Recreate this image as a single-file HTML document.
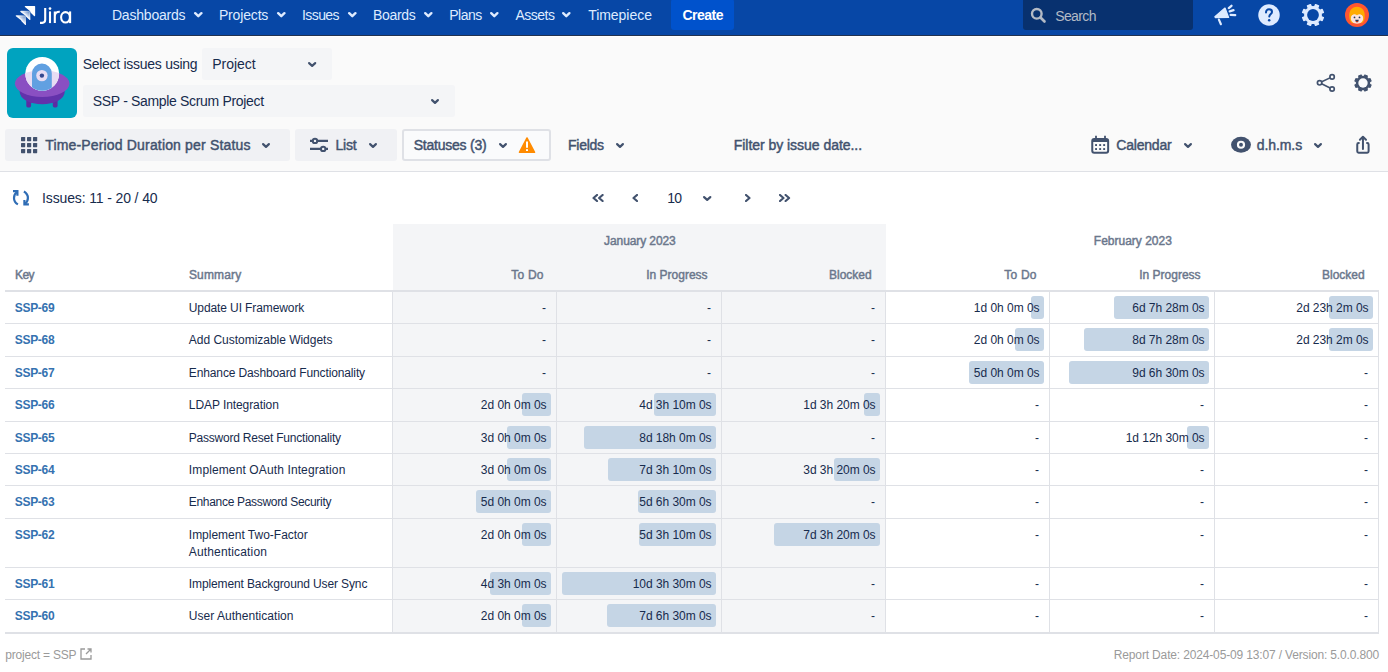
<!DOCTYPE html>
<html><head><meta charset="utf-8"><title>Jira Timepiece</title>
<style>
html,body{margin:0;padding:0;}
body{width:1388px;height:672px;overflow:hidden;position:relative;background:#ffffff;font-family:"Liberation Sans",sans-serif;}
.t{position:absolute;white-space:nowrap;line-height:normal;}
.b{position:absolute;}
</style></head><body>
<div class="b" style="left:0;top:37px;width:1388px;height:134px;background:#fafafa"></div>
<div class="b" style="left:0px;top:0px;width:1388px;height:35px;background:#0747a6;"></div><div class="b" style="left:0px;top:35px;width:1388px;height:1px;background:#22324f;"></div><div class="b" style="left:0px;top:36px;width:1388px;height:1px;background:#ffffff;"></div><svg class="b" style="left:0px;top:0px" width="80" height="32" viewBox="0 0 80 32">
<defs>
<linearGradient id="lgA" x1="0" y1="1" x2="1" y2="0"><stop offset="0.45" stop-color="#fff"/><stop offset="1" stop-color="#fff" stop-opacity="0.3"/></linearGradient>
</defs>
<path d="M25.4 6.6 H34.5 V15.5 L31.2 12.2 L30.6 10.8 Z" fill="#fff" stroke="#fff" stroke-width="1.3" stroke-linejoin="round"/>
<path d="M20.9 11.4 H29.8 V19.4 L26.6 16.4 L25.9 15.2 Z" fill="url(#lgA)" stroke="url(#lgA)" stroke-width="1.2" stroke-linejoin="round"/>
<path d="M16.3 15.8 H25.4 V24.4 L22.2 21.2 L21.4 19.8 Z" fill="url(#lgA)" stroke="url(#lgA)" stroke-width="1.2" stroke-linejoin="round"/>
<g fill="none" stroke="#fff" stroke-width="2.1">
<path d="M45.2 8 V19.6 Q45.2 22.9 42.2 22.9 H40"/>
<path d="M50 11.4 V23.1"/>
<path d="M54.8 23.1 V11.4 M54.8 16 Q55.3 11.6 59.8 11.8"/>
<ellipse cx="65.5" cy="17.3" rx="4.4" ry="5.2"/>
<path d="M70.1 11.4 V23.1"/>
</g>
<circle cx="50" cy="8.6" r="1.35" fill="#fff"/>
</svg><div class="t" style="left:111.94px;top:7.00px;font-size:14px;font-weight:400;color:#deebff;letter-spacing:-0.204px;">Dashboards</div><svg class="b" style="left:192.6px;top:10.8px" width="10.6" height="7.4" viewBox="-1 -1 10.6 7.4"><path d="M1.2 1.2 L4.3 4.2 L7.3999999999999995 1.2" fill="none" stroke="#deebff" stroke-width="2.4" stroke-linecap="round" stroke-linejoin="round"/></svg><div class="t" style="left:218.94px;top:7.00px;font-size:14px;font-weight:400;color:#deebff;letter-spacing:-0.163px;">Projects</div><svg class="b" style="left:275.5px;top:10.8px" width="10.6" height="7.4" viewBox="-1 -1 10.6 7.4"><path d="M1.2 1.2 L4.3 4.2 L7.3999999999999995 1.2" fill="none" stroke="#deebff" stroke-width="2.4" stroke-linecap="round" stroke-linejoin="round"/></svg><div class="t" style="left:301.94px;top:7.00px;font-size:14px;font-weight:400;color:#deebff;letter-spacing:-0.567px;">Issues</div><svg class="b" style="left:346.6px;top:10.8px" width="10.6" height="7.4" viewBox="-1 -1 10.6 7.4"><path d="M1.2 1.2 L4.3 4.2 L7.3999999999999995 1.2" fill="none" stroke="#deebff" stroke-width="2.4" stroke-linecap="round" stroke-linejoin="round"/></svg><div class="t" style="left:372.94px;top:7.00px;font-size:14px;font-weight:400;color:#deebff;letter-spacing:-0.285px;">Boards</div><svg class="b" style="left:423px;top:10.8px" width="10.6" height="7.4" viewBox="-1 -1 10.6 7.4"><path d="M1.2 1.2 L4.3 4.2 L7.3999999999999995 1.2" fill="none" stroke="#deebff" stroke-width="2.4" stroke-linecap="round" stroke-linejoin="round"/></svg><div class="t" style="left:449.34px;top:7.00px;font-size:14px;font-weight:400;color:#deebff;letter-spacing:-0.549px;">Plans</div><svg class="b" style="left:489.3px;top:10.8px" width="10.6" height="7.4" viewBox="-1 -1 10.6 7.4"><path d="M1.2 1.2 L4.3 4.2 L7.3999999999999995 1.2" fill="none" stroke="#deebff" stroke-width="2.4" stroke-linecap="round" stroke-linejoin="round"/></svg><div class="t" style="left:515.44px;top:7.00px;font-size:14px;font-weight:400;color:#deebff;letter-spacing:-0.499px;">Assets</div><svg class="b" style="left:561.4px;top:10.8px" width="10.6" height="7.4" viewBox="-1 -1 10.6 7.4"><path d="M1.2 1.2 L4.3 4.2 L7.3999999999999995 1.2" fill="none" stroke="#deebff" stroke-width="2.4" stroke-linecap="round" stroke-linejoin="round"/></svg><div class="t" style="left:588.14px;top:7.00px;font-size:14px;font-weight:400;color:#deebff;letter-spacing:-0.026px;">Timepiece</div><div class="b" style="left:671px;top:-1px;width:63px;height:31px;background:#0052cc;border-radius:3px"></div><div class="t" style="left:682.44px;top:7.00px;font-size:14px;font-weight:700;color:#ffffff;letter-spacing:-0.489px;">Create</div><div class="b" style="left:1023px;top:-3px;width:170px;height:33px;background:#08316f;border-radius:3px"></div><svg class="b" style="left:1030px;top:7px" width="17" height="17" viewBox="0 0 17 17"><circle cx="6.8" cy="6.8" r="4.8" fill="none" stroke="#b3bac5" stroke-width="2.4"/><path d="M10.5 10.5 L14.5 14.5" stroke="#b3bac5" stroke-width="2.6" stroke-linecap="round"/></svg><div class="t" style="left:1055.14px;top:8.00px;font-size:14px;font-weight:400;color:#b3bac5;letter-spacing:-0.585px;">Search</div><svg class="b" style="left:1213px;top:4px" width="24" height="22" viewBox="0 0 24 22">
<path d="M1.9 12.8 L12 4.1 L15.6 13.4 L2.3 13.5 Z" fill="#deebff" stroke="#deebff" stroke-width="1.3" stroke-linejoin="round"/>
<path d="M5.9 15.6 L7.9 20.2" stroke="#deebff" stroke-width="2.2" stroke-linecap="round"/>
<path d="M15.8 4.1 L18.5 1.8 M16.7 7.3 L20.5 6.2 M17.7 10.8 L22.2 11.2" stroke="#deebff" stroke-width="2.3" stroke-linecap="round"/>
</svg><svg class="b" style="left:1257px;top:3px" width="24" height="24" viewBox="0 0 24 24">
<circle cx="12" cy="12" r="10.75" fill="#deebff"/>
<path d="M9 9.4 C9 7.4 10.3 6.3 12 6.3 C13.8 6.3 15 7.5 15 9 C15 10.9 12.5 11.2 12.3 13.4" fill="none" stroke="#0747a6" stroke-width="2" stroke-linecap="round"/>
<circle cx="12.2" cy="17.2" r="1.25" fill="#0747a6"/>
</svg><svg class="b" style="left:1301px;top:3px" width="24" height="24" viewBox="0 0 24 24"><path d="M20.20 12.00 L20.05 13.54 L22.39 14.54 L21.15 17.55 L18.78 16.61 L17.80 17.80 L17.80 17.80 L16.61 18.78 L17.55 21.15 L14.54 22.39 L13.54 20.05 L12.00 20.20 L12.00 20.20 L10.46 20.05 L9.46 22.39 L6.45 21.15 L7.39 18.78 L6.20 17.80 L6.20 17.80 L5.22 16.61 L2.85 17.55 L1.61 14.54 L3.95 13.54 L3.80 12.00 L3.80 12.00 L3.95 10.46 L1.61 9.46 L2.85 6.45 L5.22 7.39 L6.20 6.20 L6.20 6.20 L7.39 5.22 L6.45 2.85 L9.46 1.61 L10.46 3.95 L12.00 3.80 L12.00 3.80 L13.54 3.95 L14.54 1.61 L17.55 2.85 L16.61 5.22 L17.80 6.20 L17.80 6.20 L18.78 7.39 L21.15 6.45 L22.39 9.46 L20.05 10.46 L20.20 12.00 Z" fill="#deebff" stroke="#deebff" stroke-width="1.4" stroke-linejoin="round"/><circle cx="12" cy="12" r="5.9" fill="#0747a6"/></svg><svg class="b" style="left:1345px;top:3px" width="24" height="24" viewBox="0 0 24 24">
<circle cx="12" cy="12" r="12" fill="#ff5630"/>
<path d="M4.3 14 C3.6 8 7 3.8 12 3.8 C17 3.8 20.4 8 19.7 14 C19.5 17 18.5 19 17 20 L7 20 C5.5 19 4.5 17 4.3 14Z" fill="#ffab00"/>
<path d="M5.9 15.5 C5.9 12.5 7 10.8 12 10.8 C17 10.8 18.1 12.5 18.1 15.5 C18.1 18.8 15.5 20.7 12 20.7 C8.5 20.7 5.9 18.8 5.9 15.5Z" fill="#fbe3dc"/>
<path d="M5.6 13 C7 9.2 9.5 8.5 12 9.6 C14.5 8.5 17 9.2 18.4 13 C16 11 14 10.8 12 12.2 C10 10.8 8 11 5.6 13Z" fill="#ffab00"/>
<circle cx="9.5" cy="14.4" r="0.9" fill="#253858"/><circle cx="14.5" cy="14.4" r="0.9" fill="#253858"/>
<path d="M10.2 16.7 H13.8 Q13.6 19.3 12 19.3 Q10.4 19.3 10.2 16.7Z" fill="#253858"/>
<path d="M10.8 18.4 Q12 17.6 13.2 18.4 Q12.8 19.3 12 19.3 Q11.2 19.3 10.8 18.4Z" fill="#de350b"/>
</svg><svg class="b" style="left:7px;top:48px" width="70" height="70" viewBox="0 0 70 70">
<defs><clipPath id="ufoE"><ellipse cx="35.2" cy="35.6" rx="27.3" ry="13.3"/></clipPath>
<clipPath id="ufoC"><circle cx="35.2" cy="25.8" r="16.9"/></clipPath></defs>
<rect width="70" height="70" rx="6" fill="#00a3bf"/>
<rect x="19.3" y="48" width="4.8" height="11.4" rx="1.6" fill="#5b2ca3"/>
<rect x="45.8" y="48" width="4.8" height="11.4" rx="1.6" fill="#5b2ca3"/>
<ellipse cx="35.2" cy="44" rx="22.5" ry="12.2" fill="#6232ab"/>
<ellipse cx="35.2" cy="35.6" rx="27.3" ry="13.3" fill="#8a4fc2"/>
<circle cx="35.2" cy="25.8" r="16.9" fill="#ffffff"/>
<circle cx="35.2" cy="25.8" r="16.9" fill="#e7dcf3" clip-path="url(#ufoE)"/>
<path d="M25 45 V25.5 A9.9 9.9 0 0 1 44.8 25.5 V45 Z" fill="#61a0e1" clip-path="url(#ufoC)"/>
<circle cx="34.9" cy="27.6" r="5.7" fill="#e7dcf3"/>
<circle cx="34.9" cy="27.6" r="2.2" fill="#34478f"/>
</svg><div class="t" style="left:82.64px;top:56.00px;font-size:14px;font-weight:400;color:#172b4d;letter-spacing:-0.272px;">Select issues using</div><div class="b" style="left:202px;top:48px;width:130px;height:32px;background:#f4f5f7;border-radius:3px"></div><div class="t" style="left:212.34px;top:56.00px;font-size:14px;font-weight:400;color:#172b4d;letter-spacing:-0.057px;">Project</div><svg class="b" style="left:307px;top:60.5px" width="10.3" height="7" viewBox="-1 -1 10.3 7"><path d="M1.1 1.1 L4.15 3.9 L7.200000000000001 1.1" fill="none" stroke="#42526e" stroke-width="2.2" stroke-linecap="round" stroke-linejoin="round"/></svg><div class="b" style="left:83px;top:85px;width:372px;height:32px;background:#f4f5f7;border-radius:3px"></div><div class="t" style="left:92.84px;top:93.00px;font-size:14px;font-weight:400;color:#172b4d;letter-spacing:-0.329px;">SSP - Sample Scrum Project</div><svg class="b" style="left:430px;top:98px" width="10" height="7" viewBox="-1 -1 10 7"><path d="M1.1 1.1 L4.0 3.9 L6.9 1.1" fill="none" stroke="#42526e" stroke-width="2.2" stroke-linecap="round" stroke-linejoin="round"/></svg><svg class="b" style="left:1316px;top:73px" width="20" height="20" viewBox="0 0 20 20">
<path d="M3.6 9.8 L16.1 3.9 M3.6 9.8 L16.1 16" stroke="#42526e" stroke-width="1.6"/>
<circle cx="3.6" cy="9.8" r="2.2" fill="#fafbfc" stroke="#42526e" stroke-width="1.7"/>
<circle cx="16.1" cy="3.9" r="2.2" fill="#fafbfc" stroke="#42526e" stroke-width="1.7"/>
<circle cx="16.1" cy="16" r="2.2" fill="#fafbfc" stroke="#42526e" stroke-width="1.7"/>
</svg><svg class="b" style="left:1352.6px;top:72.8px" width="20" height="20" viewBox="0 0 20 20"><path d="M16.60 10.00 L16.49 11.19 L18.07 11.92 L17.07 14.35 L15.43 13.75 L14.67 14.67 L14.67 14.67 L13.75 15.43 L14.35 17.07 L11.92 18.07 L11.19 16.49 L10.00 16.60 L10.00 16.60 L8.81 16.49 L8.08 18.07 L5.65 17.07 L6.25 15.43 L5.33 14.67 L5.33 14.67 L4.57 13.75 L2.93 14.35 L1.93 11.92 L3.51 11.19 L3.40 10.00 L3.40 10.00 L3.51 8.81 L1.93 8.08 L2.93 5.65 L4.57 6.25 L5.33 5.33 L5.33 5.33 L6.25 4.57 L5.65 2.93 L8.08 1.93 L8.81 3.51 L10.00 3.40 L10.00 3.40 L11.19 3.51 L11.92 1.93 L14.35 2.93 L13.75 4.57 L14.67 5.33 L14.67 5.33 L15.43 6.25 L17.07 5.65 L18.07 8.08 L16.49 8.81 L16.60 10.00 Z" fill="#42526e" stroke="#42526e" stroke-width="1.2" stroke-linejoin="round"/><circle cx="10" cy="10" r="4.7" fill="#fafbfc"/></svg><div class="b" style="left:5px;top:129px;width:285px;height:32px;background:#f0f1f4;border-radius:3px"></div><svg class="b" style="left:21px;top:137px" width="17" height="17" viewBox="0 0 17 17"><rect x="0" y="0" width="4.2" height="4.2" rx="0.6" fill="#42526e"/><rect x="0" y="6" width="4.2" height="4.2" rx="0.6" fill="#42526e"/><rect x="0" y="12" width="4.2" height="4.2" rx="0.6" fill="#42526e"/><rect x="6" y="0" width="4.2" height="4.2" rx="0.6" fill="#42526e"/><rect x="6" y="6" width="4.2" height="4.2" rx="0.6" fill="#42526e"/><rect x="6" y="12" width="4.2" height="4.2" rx="0.6" fill="#42526e"/><rect x="12" y="0" width="4.2" height="4.2" rx="0.6" fill="#42526e"/><rect x="12" y="6" width="4.2" height="4.2" rx="0.6" fill="#42526e"/><rect x="12" y="12" width="4.2" height="4.2" rx="0.6" fill="#42526e"/></svg><div class="t" style="left:45.24px;top:137.00px;font-size:14px;font-weight:400;color:#42526e;letter-spacing:0.165px;-webkit-text-stroke:0.45px #42526e;">Time-Period Duration per Status</div><svg class="b" style="left:261px;top:142px" width="10" height="7" viewBox="-1 -1 10 7"><path d="M1.1 1.1 L4.0 3.9 L6.9 1.1" fill="none" stroke="#42526e" stroke-width="2.2" stroke-linecap="round" stroke-linejoin="round"/></svg><div class="b" style="left:295px;top:129px;width:102px;height:32px;background:#f0f1f4;border-radius:3px"></div><svg class="b" style="left:309px;top:137px" width="20" height="16" viewBox="0 0 20 16">
<path d="M1 3.9 H19 M1 11.9 H19" stroke="#42526e" stroke-width="2.1"/>
<circle cx="6" cy="3.9" r="2.2" fill="#f0f1f4" stroke="#42526e" stroke-width="2"/>
<circle cx="14.2" cy="11.9" r="2.2" fill="#f0f1f4" stroke="#42526e" stroke-width="2"/>
</svg><div class="t" style="left:335.44px;top:137.00px;font-size:14px;font-weight:400;color:#42526e;letter-spacing:-0.187px;-webkit-text-stroke:0.45px #42526e;">List</div><svg class="b" style="left:368px;top:142px" width="10" height="7" viewBox="-1 -1 10 7"><path d="M1.1 1.1 L4.0 3.9 L6.9 1.1" fill="none" stroke="#42526e" stroke-width="2.2" stroke-linecap="round" stroke-linejoin="round"/></svg><div class="b" style="left:402px;top:129px;width:149px;height:32px;background:#fafbfc;border-radius:3px;box-sizing:border-box;border:2px solid #dfe1e6"></div><div class="t" style="left:413.64px;top:137.00px;font-size:14px;font-weight:400;color:#42526e;letter-spacing:-0.212px;-webkit-text-stroke:0.45px #42526e;">Statuses (3)</div><svg class="b" style="left:498.2px;top:142px" width="10" height="7" viewBox="-1 -1 10 7"><path d="M1.1 1.1 L4.0 3.9 L6.9 1.1" fill="none" stroke="#42526e" stroke-width="2.2" stroke-linecap="round" stroke-linejoin="round"/></svg><svg class="b" style="left:518px;top:136px" width="18" height="18" viewBox="0 0 18 18">
<path d="M9 1.9 L16.6 16.3 H1.4 Z" fill="#ff8b00" stroke="#ff8b00" stroke-width="1.4" stroke-linejoin="round"/>
<path d="M9 5.4 V11.8" stroke="#fff" stroke-width="2"/>
<rect x="8" y="13.2" width="2" height="1.8" fill="#fff"/>
</svg><div class="t" style="left:568.04px;top:137.00px;font-size:14px;font-weight:400;color:#42526e;letter-spacing:-0.262px;-webkit-text-stroke:0.45px #42526e;">Fields</div><svg class="b" style="left:614.5px;top:142px" width="10" height="7" viewBox="-1 -1 10 7"><path d="M1.1 1.1 L4.0 3.9 L6.9 1.1" fill="none" stroke="#42526e" stroke-width="2.2" stroke-linecap="round" stroke-linejoin="round"/></svg><div class="t" style="left:733.74px;top:137.00px;font-size:14px;font-weight:400;color:#42526e;letter-spacing:-0.037px;-webkit-text-stroke:0.45px #42526e;">Filter by issue date...</div><svg class="b" style="left:1090px;top:135px" width="20" height="20" viewBox="0 0 20 20">
<rect x="2.25" y="4" width="15.9" height="13.7" rx="2" fill="none" stroke="#42526e" stroke-width="2"/>
<rect x="2.25" y="4" width="15.9" height="3" fill="#42526e"/>
<path d="M6 0.8 V4 M15 0.8 V4" stroke="#42526e" stroke-width="1.8"/>
<g fill="#42526e"><rect x="5.1" y="9.1" width="1.9" height="1.9"/><rect x="9.2" y="9.1" width="1.9" height="1.9"/><rect x="13.2" y="9.1" width="1.9" height="1.9"/><rect x="5.1" y="13.1" width="1.9" height="1.9"/><rect x="9.2" y="13.1" width="1.9" height="1.9"/><rect x="13.2" y="13.1" width="1.9" height="1.9"/></g>
</svg><div class="t" style="left:1116.34px;top:137.00px;font-size:14px;font-weight:400;color:#42526e;letter-spacing:-0.209px;-webkit-text-stroke:0.45px #42526e;">Calendar</div><svg class="b" style="left:1183.3px;top:142px" width="10" height="7" viewBox="-1 -1 10 7"><path d="M1.1 1.1 L4.0 3.9 L6.9 1.1" fill="none" stroke="#42526e" stroke-width="2.2" stroke-linecap="round" stroke-linejoin="round"/></svg><svg class="b" style="left:1230px;top:136px" width="22" height="18" viewBox="0 0 22 18">
<ellipse cx="11" cy="8.75" rx="9.95" ry="7.9" fill="#42526e"/>
<circle cx="11" cy="8.75" r="4.1" fill="#fafafa"/><circle cx="11" cy="8.75" r="1.95" fill="#42526e"/>
</svg><div class="t" style="left:1256.84px;top:137.00px;font-size:14px;font-weight:400;color:#42526e;letter-spacing:-0.095px;-webkit-text-stroke:0.45px #42526e;">d.h.m.s</div><svg class="b" style="left:1313.1px;top:142px" width="10" height="7" viewBox="-1 -1 10 7"><path d="M1.1 1.1 L4.0 3.9 L6.9 1.1" fill="none" stroke="#42526e" stroke-width="2.2" stroke-linecap="round" stroke-linejoin="round"/></svg><svg class="b" style="left:1354px;top:134px" width="18" height="21" viewBox="0 0 18 21">
<path d="M8.95 3.5 V15" stroke="#42526e" stroke-width="2" stroke-linecap="round"/>
<path d="M5.9 5.8 L8.95 2.8 L12 5.8" fill="none" stroke="#42526e" stroke-width="2" stroke-linecap="round" stroke-linejoin="round"/>
<path d="M5.6 9 H4.6 Q3.25 9 3.25 10.4 V17.3 Q3.25 18.7 4.6 18.7 H13.25 Q14.6 18.7 14.6 17.3 V10.4 Q14.6 9 13.25 9 H12.3" fill="none" stroke="#42526e" stroke-width="2"/>
</svg><div class="b" style="left:0px;top:171px;width:1388px;height:1px;background:#dfe1e6;"></div><svg class="b" style="left:5px;top:183px" width="35" height="30" viewBox="0 0 35 30">
<g fill="none" stroke="#2f6db5" stroke-width="2.2">
<path d="M8 8.2 H12.4 V12.7" stroke-linejoin="miter"/>
<path d="M12.1 8.9 C10 10.4 9 12.7 9 15 C9 17.6 10.4 20 12.9 21.4"/>
<path d="M23.9 21.3 H19.4 V17.1" stroke-linejoin="miter"/>
<path d="M18.9 8.5 C21.5 10 22.9 12.4 22.9 15 C22.9 17.3 21.9 19.4 19.8 20.8"/>
</g>
</svg><div class="t" style="left:42.04px;top:190.00px;font-size:14px;font-weight:400;color:#172b4d;letter-spacing:-0.131px;">Issues: 11 - 20 / 40</div><svg class="b" style="left:592.2px;top:194px" width="12" height="8" viewBox="0 0 12 8"><path d="M5 1 L1.5 4.0 L5 7" fill="none" stroke="#42526e" stroke-width="2.2" stroke-linecap="round" stroke-linejoin="round"/><g transform="translate(5.6,0)"><path d="M5 1 L1.5 4.0 L5 7" fill="none" stroke="#42526e" stroke-width="2.2" stroke-linecap="round" stroke-linejoin="round"/></g></svg><svg class="b" style="left:632.1px;top:194px" width="6" height="8" viewBox="0 0 6 8"><path d="M5 1 L1.5 4.0 L5 7" fill="none" stroke="#42526e" stroke-width="2.2" stroke-linecap="round" stroke-linejoin="round"/></svg><div class="t" style="left:667.14px;top:190.00px;font-size:14px;font-weight:400;color:#172b4d;letter-spacing:-0.742px;">10</div><svg class="b" style="left:701.6px;top:194.9px" width="10.4" height="7" viewBox="-1 -1 10.4 7"><path d="M1.1 1.1 L4.2 3.9 L7.300000000000001 1.1" fill="none" stroke="#42526e" stroke-width="2.2" stroke-linecap="round" stroke-linejoin="round"/></svg><svg class="b" style="left:745.2px;top:194px" width="6" height="8" viewBox="0 0 6 8"><path d="M1 1 L4.5 4.0 L1 7" fill="none" stroke="#42526e" stroke-width="2.2" stroke-linecap="round" stroke-linejoin="round"/></svg><svg class="b" style="left:779.2px;top:194px" width="12" height="8" viewBox="0 0 12 8"><path d="M1 1 L4.5 4.0 L1 7" fill="none" stroke="#42526e" stroke-width="2.2" stroke-linecap="round" stroke-linejoin="round"/><g transform="translate(5.6,0)"><path d="M1 1 L4.5 4.0 L1 7" fill="none" stroke="#42526e" stroke-width="2.2" stroke-linecap="round" stroke-linejoin="round"/></g></svg><div class="b" style="left:393px;top:224px;width:493px;height:67px;background:#f4f5f7;"></div><div class="t" style="left:604.12px;top:234.00px;font-size:12px;font-weight:400;color:#6b778c;letter-spacing:-0.095px;-webkit-text-stroke:0.45px #6b778c;">January 2023</div><div class="t" style="left:1093.82px;top:234.00px;font-size:12px;font-weight:400;color:#6b778c;letter-spacing:0.002px;-webkit-text-stroke:0.45px #6b778c;">February 2023</div><div class="t" style="left:15.12px;top:268.00px;font-size:12px;font-weight:400;color:#6b778c;letter-spacing:-0.706px;-webkit-text-stroke:0.45px #6b778c;">Key</div><div class="t" style="left:188.92px;top:268.00px;font-size:12px;font-weight:400;color:#6b778c;letter-spacing:0.153px;-webkit-text-stroke:0.45px #6b778c;">Summary</div><div class="t" style="right:844.40px;top:268.00px;font-size:12px;font-weight:400;color:#6b778c;letter-spacing:0.179px;-webkit-text-stroke:0.45px #6b778c;">To Do</div><div class="t" style="right:680.42px;top:268.00px;font-size:12px;font-weight:400;color:#6b778c;letter-spacing:0.002px;-webkit-text-stroke:0.45px #6b778c;">In Progress</div><div class="t" style="right:516.40px;top:268.00px;font-size:12px;font-weight:400;color:#6b778c;letter-spacing:-0.021px;-webkit-text-stroke:0.45px #6b778c;">Blocked</div><div class="t" style="right:351.40px;top:268.00px;font-size:12px;font-weight:400;color:#6b778c;letter-spacing:0.179px;-webkit-text-stroke:0.45px #6b778c;">To Do</div><div class="t" style="right:187.42px;top:268.00px;font-size:12px;font-weight:400;color:#6b778c;letter-spacing:0.002px;-webkit-text-stroke:0.45px #6b778c;">In Progress</div><div class="t" style="right:23.40px;top:268.00px;font-size:12px;font-weight:400;color:#6b778c;letter-spacing:-0.021px;-webkit-text-stroke:0.45px #6b778c;">Blocked</div><div class="b" style="left:5px;top:290px;width:1374px;height:2px;background:#dfe1e6;"></div><div class="b" style="left:393px;top:292px;width:493px;height:340px;background:#f4f5f7;"></div><div class="t" style="left:14.82px;top:301.00px;font-size:12px;font-weight:700;color:#3572b0;letter-spacing:-0.317px;">SSP-69</div><div class="t" style="left:188.82px;top:301.00px;font-size:12px;font-weight:400;color:#172b4d;letter-spacing:-0.106px;">Update UI Framework</div><div class="t" style="right:842.02px;top:301.00px;font-size:12px;font-weight:400;color:#172b4d;letter-spacing:0.000px;">-</div><div class="t" style="right:677.02px;top:301.00px;font-size:12px;font-weight:400;color:#172b4d;letter-spacing:0.000px;">-</div><div class="t" style="right:513.02px;top:301.00px;font-size:12px;font-weight:400;color:#172b4d;letter-spacing:0.000px;">-</div><div class="b" style="left:1031px;top:296px;width:13px;height:22.5px;background:#c5d5e5;border-radius:3px"></div><div class="t" style="right:348.49px;top:301.00px;font-size:12px;font-weight:400;color:#172b4d;letter-spacing:-0.033px;">1d 0h 0m 0s</div><div class="b" style="left:1114px;top:296px;width:95px;height:22.5px;background:#c5d5e5;border-radius:3px"></div><div class="t" style="right:183.48px;top:301.00px;font-size:12px;font-weight:400;color:#172b4d;letter-spacing:-0.039px;">6d 7h 28m 0s</div><div class="b" style="left:1329px;top:296px;width:44px;height:22.5px;background:#c5d5e5;border-radius:3px"></div><div class="t" style="right:19.48px;top:301.00px;font-size:12px;font-weight:400;color:#172b4d;letter-spacing:-0.039px;">2d 23h 2m 0s</div><div class="b" style="left:5px;top:323px;width:1374px;height:1px;background:#dfe1e6;"></div><div class="t" style="left:14.82px;top:333.00px;font-size:12px;font-weight:700;color:#3572b0;letter-spacing:-0.317px;">SSP-68</div><div class="t" style="left:188.82px;top:333.00px;font-size:12px;font-weight:400;color:#172b4d;letter-spacing:-0.021px;">Add Customizable Widgets</div><div class="t" style="right:842.02px;top:333.00px;font-size:12px;font-weight:400;color:#172b4d;letter-spacing:0.000px;">-</div><div class="t" style="right:677.02px;top:333.00px;font-size:12px;font-weight:400;color:#172b4d;letter-spacing:0.000px;">-</div><div class="t" style="right:513.02px;top:333.00px;font-size:12px;font-weight:400;color:#172b4d;letter-spacing:0.000px;">-</div><div class="b" style="left:1015px;top:328px;width:29px;height:22.5px;background:#c5d5e5;border-radius:3px"></div><div class="t" style="right:348.49px;top:333.00px;font-size:12px;font-weight:400;color:#172b4d;letter-spacing:-0.033px;">2d 0h 0m 0s</div><div class="b" style="left:1084px;top:328px;width:125px;height:22.5px;background:#c5d5e5;border-radius:3px"></div><div class="t" style="right:183.48px;top:333.00px;font-size:12px;font-weight:400;color:#172b4d;letter-spacing:-0.039px;">8d 7h 28m 0s</div><div class="b" style="left:1329px;top:328px;width:44px;height:22.5px;background:#c5d5e5;border-radius:3px"></div><div class="t" style="right:19.48px;top:333.00px;font-size:12px;font-weight:400;color:#172b4d;letter-spacing:-0.039px;">2d 23h 2m 0s</div><div class="b" style="left:5px;top:356px;width:1374px;height:1px;background:#dfe1e6;"></div><div class="t" style="left:14.82px;top:366.00px;font-size:12px;font-weight:700;color:#3572b0;letter-spacing:-0.317px;">SSP-67</div><div class="t" style="left:188.82px;top:366.00px;font-size:12px;font-weight:400;color:#172b4d;letter-spacing:-0.127px;">Enhance Dashboard Functionality</div><div class="t" style="right:842.02px;top:366.00px;font-size:12px;font-weight:400;color:#172b4d;letter-spacing:0.000px;">-</div><div class="t" style="right:677.02px;top:366.00px;font-size:12px;font-weight:400;color:#172b4d;letter-spacing:0.000px;">-</div><div class="t" style="right:513.02px;top:366.00px;font-size:12px;font-weight:400;color:#172b4d;letter-spacing:0.000px;">-</div><div class="b" style="left:969px;top:361px;width:75px;height:22.5px;background:#c5d5e5;border-radius:3px"></div><div class="t" style="right:348.49px;top:366.00px;font-size:12px;font-weight:400;color:#172b4d;letter-spacing:-0.033px;">5d 0h 0m 0s</div><div class="b" style="left:1069px;top:361px;width:140px;height:22.5px;background:#c5d5e5;border-radius:3px"></div><div class="t" style="right:183.48px;top:366.00px;font-size:12px;font-weight:400;color:#172b4d;letter-spacing:-0.039px;">9d 6h 30m 0s</div><div class="t" style="right:20.02px;top:366.00px;font-size:12px;font-weight:400;color:#172b4d;letter-spacing:0.000px;">-</div><div class="b" style="left:5px;top:388px;width:1374px;height:1px;background:#dfe1e6;"></div><div class="t" style="left:14.82px;top:398.00px;font-size:12px;font-weight:700;color:#3572b0;letter-spacing:-0.317px;">SSP-66</div><div class="t" style="left:188.82px;top:398.00px;font-size:12px;font-weight:400;color:#172b4d;letter-spacing:-0.079px;">LDAP Integration</div><div class="b" style="left:522px;top:393px;width:29px;height:22.5px;background:#c5d5e5;border-radius:3px"></div><div class="t" style="right:841.49px;top:398.00px;font-size:12px;font-weight:400;color:#172b4d;letter-spacing:-0.033px;">2d 0h 0m 0s</div><div class="b" style="left:654px;top:393px;width:62px;height:22.5px;background:#c5d5e5;border-radius:3px"></div><div class="t" style="right:676.48px;top:398.00px;font-size:12px;font-weight:400;color:#172b4d;letter-spacing:-0.039px;">4d 3h 10m 0s</div><div class="b" style="left:864px;top:393px;width:16px;height:22.5px;background:#c5d5e5;border-radius:3px"></div><div class="t" style="right:512.48px;top:398.00px;font-size:12px;font-weight:400;color:#172b4d;letter-spacing:-0.039px;">1d 3h 20m 0s</div><div class="t" style="right:349.02px;top:398.00px;font-size:12px;font-weight:400;color:#172b4d;letter-spacing:0.000px;">-</div><div class="t" style="right:184.02px;top:398.00px;font-size:12px;font-weight:400;color:#172b4d;letter-spacing:0.000px;">-</div><div class="t" style="right:20.02px;top:398.00px;font-size:12px;font-weight:400;color:#172b4d;letter-spacing:0.000px;">-</div><div class="b" style="left:5px;top:421px;width:1374px;height:1px;background:#dfe1e6;"></div><div class="t" style="left:14.82px;top:431.00px;font-size:12px;font-weight:700;color:#3572b0;letter-spacing:-0.317px;">SSP-65</div><div class="t" style="left:188.82px;top:431.00px;font-size:12px;font-weight:400;color:#172b4d;letter-spacing:-0.218px;">Password Reset Functionality</div><div class="b" style="left:507px;top:426px;width:44px;height:22.5px;background:#c5d5e5;border-radius:3px"></div><div class="t" style="right:841.49px;top:431.00px;font-size:12px;font-weight:400;color:#172b4d;letter-spacing:-0.033px;">3d 0h 0m 0s</div><div class="b" style="left:584px;top:426px;width:132px;height:22.5px;background:#c5d5e5;border-radius:3px"></div><div class="t" style="right:676.48px;top:431.00px;font-size:12px;font-weight:400;color:#172b4d;letter-spacing:-0.039px;">8d 18h 0m 0s</div><div class="t" style="right:513.02px;top:431.00px;font-size:12px;font-weight:400;color:#172b4d;letter-spacing:0.000px;">-</div><div class="t" style="right:349.02px;top:431.00px;font-size:12px;font-weight:400;color:#172b4d;letter-spacing:0.000px;">-</div><div class="b" style="left:1187px;top:426px;width:22px;height:22.5px;background:#c5d5e5;border-radius:3px"></div><div class="t" style="right:183.48px;top:431.00px;font-size:12px;font-weight:400;color:#172b4d;letter-spacing:-0.044px;">1d 12h 30m 0s</div><div class="t" style="right:20.02px;top:431.00px;font-size:12px;font-weight:400;color:#172b4d;letter-spacing:0.000px;">-</div><div class="b" style="left:5px;top:453px;width:1374px;height:1px;background:#dfe1e6;"></div><div class="t" style="left:14.82px;top:463.00px;font-size:12px;font-weight:700;color:#3572b0;letter-spacing:-0.317px;">SSP-64</div><div class="t" style="left:188.82px;top:463.00px;font-size:12px;font-weight:400;color:#172b4d;letter-spacing:0.119px;">Implement OAuth Integration</div><div class="b" style="left:507px;top:458px;width:44px;height:22.5px;background:#c5d5e5;border-radius:3px"></div><div class="t" style="right:841.49px;top:463.00px;font-size:12px;font-weight:400;color:#172b4d;letter-spacing:-0.033px;">3d 0h 0m 0s</div><div class="b" style="left:608px;top:458px;width:108px;height:22.5px;background:#c5d5e5;border-radius:3px"></div><div class="t" style="right:676.48px;top:463.00px;font-size:12px;font-weight:400;color:#172b4d;letter-spacing:-0.039px;">7d 3h 10m 0s</div><div class="b" style="left:834px;top:458px;width:46px;height:22.5px;background:#c5d5e5;border-radius:3px"></div><div class="t" style="right:512.48px;top:463.00px;font-size:12px;font-weight:400;color:#172b4d;letter-spacing:-0.039px;">3d 3h 20m 0s</div><div class="t" style="right:349.02px;top:463.00px;font-size:12px;font-weight:400;color:#172b4d;letter-spacing:0.000px;">-</div><div class="t" style="right:184.02px;top:463.00px;font-size:12px;font-weight:400;color:#172b4d;letter-spacing:0.000px;">-</div><div class="t" style="right:20.02px;top:463.00px;font-size:12px;font-weight:400;color:#172b4d;letter-spacing:0.000px;">-</div><div class="b" style="left:5px;top:485px;width:1374px;height:1px;background:#dfe1e6;"></div><div class="t" style="left:14.82px;top:495.00px;font-size:12px;font-weight:700;color:#3572b0;letter-spacing:-0.317px;">SSP-63</div><div class="t" style="left:188.82px;top:495.00px;font-size:12px;font-weight:400;color:#172b4d;letter-spacing:-0.312px;">Enhance Password Security</div><div class="b" style="left:476px;top:490px;width:75px;height:22.5px;background:#c5d5e5;border-radius:3px"></div><div class="t" style="right:841.49px;top:495.00px;font-size:12px;font-weight:400;color:#172b4d;letter-spacing:-0.033px;">5d 0h 0m 0s</div><div class="b" style="left:638px;top:490px;width:78px;height:22.5px;background:#c5d5e5;border-radius:3px"></div><div class="t" style="right:676.48px;top:495.00px;font-size:12px;font-weight:400;color:#172b4d;letter-spacing:-0.039px;">5d 6h 30m 0s</div><div class="t" style="right:513.02px;top:495.00px;font-size:12px;font-weight:400;color:#172b4d;letter-spacing:0.000px;">-</div><div class="t" style="right:349.02px;top:495.00px;font-size:12px;font-weight:400;color:#172b4d;letter-spacing:0.000px;">-</div><div class="t" style="right:184.02px;top:495.00px;font-size:12px;font-weight:400;color:#172b4d;letter-spacing:0.000px;">-</div><div class="t" style="right:20.02px;top:495.00px;font-size:12px;font-weight:400;color:#172b4d;letter-spacing:0.000px;">-</div><div class="b" style="left:5px;top:518px;width:1374px;height:1px;background:#dfe1e6;"></div><div class="t" style="left:14.82px;top:528.00px;font-size:12px;font-weight:700;color:#3572b0;letter-spacing:-0.317px;">SSP-62</div><div class="t" style="left:188.82px;top:528.00px;font-size:12px;font-weight:400;color:#172b4d;letter-spacing:-0.010px;">Implement Two-Factor</div><div class="t" style="left:188.82px;top:545.00px;font-size:12px;font-weight:400;color:#172b4d;letter-spacing:0.156px;">Authentication</div><div class="b" style="left:522px;top:523px;width:29px;height:22.5px;background:#c5d5e5;border-radius:3px"></div><div class="t" style="right:841.49px;top:528.00px;font-size:12px;font-weight:400;color:#172b4d;letter-spacing:-0.033px;">2d 0h 0m 0s</div><div class="b" style="left:639px;top:523px;width:77px;height:22.5px;background:#c5d5e5;border-radius:3px"></div><div class="t" style="right:676.48px;top:528.00px;font-size:12px;font-weight:400;color:#172b4d;letter-spacing:-0.039px;">5d 3h 10m 0s</div><div class="b" style="left:774px;top:523px;width:106px;height:22.5px;background:#c5d5e5;border-radius:3px"></div><div class="t" style="right:512.48px;top:528.00px;font-size:12px;font-weight:400;color:#172b4d;letter-spacing:-0.039px;">7d 3h 20m 0s</div><div class="t" style="right:349.02px;top:528.00px;font-size:12px;font-weight:400;color:#172b4d;letter-spacing:0.000px;">-</div><div class="t" style="right:184.02px;top:528.00px;font-size:12px;font-weight:400;color:#172b4d;letter-spacing:0.000px;">-</div><div class="t" style="right:20.02px;top:528.00px;font-size:12px;font-weight:400;color:#172b4d;letter-spacing:0.000px;">-</div><div class="b" style="left:5px;top:567px;width:1374px;height:1px;background:#dfe1e6;"></div><div class="t" style="left:14.82px;top:577.00px;font-size:12px;font-weight:700;color:#3572b0;letter-spacing:-0.317px;">SSP-61</div><div class="t" style="left:188.82px;top:577.00px;font-size:12px;font-weight:400;color:#172b4d;letter-spacing:-0.120px;">Implement Background User Sync</div><div class="b" style="left:490px;top:572px;width:61px;height:22.5px;background:#c5d5e5;border-radius:3px"></div><div class="t" style="right:841.49px;top:577.00px;font-size:12px;font-weight:400;color:#172b4d;letter-spacing:-0.033px;">4d 3h 0m 0s</div><div class="b" style="left:562px;top:572px;width:154px;height:22.5px;background:#c5d5e5;border-radius:3px"></div><div class="t" style="right:676.48px;top:577.00px;font-size:12px;font-weight:400;color:#172b4d;letter-spacing:-0.044px;">10d 3h 30m 0s</div><div class="t" style="right:513.02px;top:577.00px;font-size:12px;font-weight:400;color:#172b4d;letter-spacing:0.000px;">-</div><div class="t" style="right:349.02px;top:577.00px;font-size:12px;font-weight:400;color:#172b4d;letter-spacing:0.000px;">-</div><div class="t" style="right:184.02px;top:577.00px;font-size:12px;font-weight:400;color:#172b4d;letter-spacing:0.000px;">-</div><div class="t" style="right:20.02px;top:577.00px;font-size:12px;font-weight:400;color:#172b4d;letter-spacing:0.000px;">-</div><div class="b" style="left:5px;top:599px;width:1374px;height:1px;background:#dfe1e6;"></div><div class="t" style="left:14.82px;top:609.00px;font-size:12px;font-weight:700;color:#3572b0;letter-spacing:-0.317px;">SSP-60</div><div class="t" style="left:188.82px;top:609.00px;font-size:12px;font-weight:400;color:#172b4d;letter-spacing:0.034px;">User Authentication</div><div class="b" style="left:522px;top:604px;width:29px;height:22.5px;background:#c5d5e5;border-radius:3px"></div><div class="t" style="right:841.49px;top:609.00px;font-size:12px;font-weight:400;color:#172b4d;letter-spacing:-0.033px;">2d 0h 0m 0s</div><div class="b" style="left:607px;top:604px;width:109px;height:22.5px;background:#c5d5e5;border-radius:3px"></div><div class="t" style="right:676.48px;top:609.00px;font-size:12px;font-weight:400;color:#172b4d;letter-spacing:-0.039px;">7d 6h 30m 0s</div><div class="t" style="right:513.02px;top:609.00px;font-size:12px;font-weight:400;color:#172b4d;letter-spacing:0.000px;">-</div><div class="t" style="right:349.02px;top:609.00px;font-size:12px;font-weight:400;color:#172b4d;letter-spacing:0.000px;">-</div><div class="t" style="right:184.02px;top:609.00px;font-size:12px;font-weight:400;color:#172b4d;letter-spacing:0.000px;">-</div><div class="t" style="right:20.02px;top:609.00px;font-size:12px;font-weight:400;color:#172b4d;letter-spacing:0.000px;">-</div><div class="b" style="left:392px;top:292px;width:1px;height:340px;background:#dfe1e6;"></div><div class="b" style="left:556px;top:292px;width:1px;height:340px;background:#dfe1e6;"></div><div class="b" style="left:721px;top:292px;width:1px;height:340px;background:#dfe1e6;"></div><div class="b" style="left:885px;top:292px;width:1px;height:340px;background:#dfe1e6;"></div><div class="b" style="left:1049px;top:292px;width:1px;height:340px;background:#dfe1e6;"></div><div class="b" style="left:1214px;top:292px;width:1px;height:340px;background:#dfe1e6;"></div><div class="b" style="left:1378px;top:292px;width:1px;height:340px;background:#dfe1e6;"></div><div class="b" style="left:5px;top:632px;width:1374px;height:2px;background:#dfe1e6;"></div><div class="t" style="left:5.32px;top:648.00px;font-size:12px;font-weight:400;color:#9a9a9a;letter-spacing:-0.211px;">project = SSP</div><svg class="b" style="left:80px;top:648px" width="12" height="12" viewBox="0 0 12 12">
<path d="M5 1 H1 V11 H11 V7" fill="none" stroke="#9a9a9a" stroke-width="1.3"/>
<path d="M6 6 L11 1 M7.5 1 H11 V4.5" fill="none" stroke="#9a9a9a" stroke-width="1.3"/>
</svg><div class="t" style="right:8.97px;top:648.00px;font-size:12px;font-weight:400;color:#9a9a9a;letter-spacing:-0.153px;">Report Date: 2024-05-09 13:07 / Version: 5.0.0.800</div>
</body></html>
